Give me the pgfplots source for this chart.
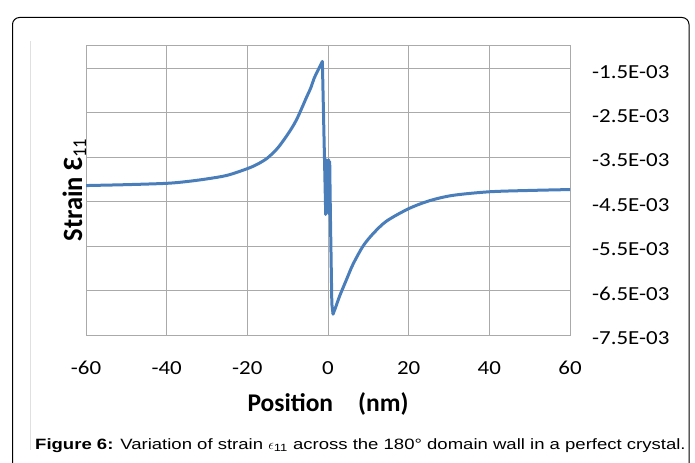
\documentclass[border=0pt]{standalone}
\usepackage{fontspec}
\setmainfont{Carlito}
\newfontfamily\tickfont[FakeStretch=1.15]{Carlito}
\newfontfamily\labfont[FakeStretch=0.95]{Carlito}
\newfontfamily\capfont[FakeStretch=1.24]{Liberation Sans}
\usepackage{pgfplots}
\pgfplotsset{compat=1.18}
\definecolor{curve}{RGB}{74,126,187}
\definecolor{gridc}{RGB}{170,170,170}
\begin{document}
\begin{tikzpicture}[x=1bp,y=1bp]
\path[use as bounding box] (0,0) rectangle (695,-463);
\draw[black, line width=1bp, rounded corners=7bp] (12.5,-475) -- (12.5,-17.5) -- (689,-17.5) -- (689,-475);
\draw[black!12, line width=0.8bp] (30,-41) -- (30,-450);
\begin{axis}[at={(86bp,-335bp)}, anchor=south west,
  width=484bp, height=290bp, scale only axis,
  xmin=-60, xmax=60, ymin=-0.0075, ymax=-0.00098,
  xtick={-60,-40,-20,0,20,40,60},
  xticklabels={-60,-40,-20,0,20,40,60},
  ytick={-0.0075,-0.0065,-0.0055,-0.0045,-0.0035,-0.0025,-0.0015},
  yticklabels={-7.5E-03,-6.5E-03,-5.5E-03,-4.5E-03,-3.5E-03,-2.5E-03,-1.5E-03},
  scaled y ticks=false, scaled x ticks=false,
  yticklabel pos=right,
  grid=major, major grid style={draw=gridc, line width=0.8bp},
  axis line style={draw=gridc, line width=0.8bp},
  major tick length=0pt,
  xticklabel style={font=\tickfont\fontsize{20}{24}\selectfont, anchor=center, inner sep=0pt, yshift=-33bp},
  yticklabel style={font=\tickfont\fontsize{20}{24}\selectfont, anchor=west, inner sep=0pt, xshift=22bp, yshift=-3.5bp},
  xlabel={\bfseries Position\hspace{25bp}(nm)},
  xlabel style={at={(axis description cs:0.5,0)}, anchor=base, inner sep=0pt, yshift=-76.7bp, font=\fontsize{25.6}{30}\selectfont},
  ylabel={\bfseries Strain Ɛ\textsubscript{\mdseries 11}},
  ylabel style={at={(axis description cs:-0.008,0.5)}, rotate=0, anchor=base, inner sep=0pt, font=\labfont\fontsize{28}{34}\selectfont},
]
\addplot[curve, line width=3bp, line join=round, line cap=round, smooth, tension=0.5] coordinates {
(-60,-0.00414) (-50,-0.00412) (-40,-0.00409) (-35,-0.00405) (-30,-0.00399)
(-25,-0.00391) (-20,-0.00376) (-17.5,-0.00366) (-15,-0.00352) (-12.5,-0.00330)
(-10.3,-0.00303) (-9,-0.00285) (-7.8,-0.00266) (-6.5,-0.00240) (-5.4,-0.00217)
(-4.3,-0.00195) (-3.4,-0.00172) (-2.5,-0.00155) (-1.4,-0.00135)
};
\addplot[curve, line width=3bp, line join=round, line cap=round] coordinates {
(-1.4,-0.00135)
(-0.57,-0.00479) (-0.45,-0.00356) (-0.3,-0.00475) (-0.15,-0.00358) (0,-0.00470)
(0.15,-0.00356) (0.3,-0.00478) (0.42,-0.00360) (0.6,-0.00485)
(0.95,-0.00680) (1.25,-0.00703)
};
\addplot[curve, line width=3bp, line join=round, line cap=round, smooth, tension=0.5] coordinates {
(1.25,-0.00703) (2.0,-0.00685) (2.9,-0.00662) (4.6,-0.00625)
(6.2,-0.00591) (8.7,-0.00550) (11.2,-0.00522) (14.5,-0.00494) (20,-0.00466)
(25.2,-0.00448) (31,-0.00436) (40,-0.00428) (50,-0.00425) (60,-0.00423)
};
\end{axis}
\node[anchor=base west, inner sep=0pt, font=\capfont\fontsize{15}{18}\selectfont] at (35,-449.3)
  {\textbf{Figure 6:} Variation of strain $\epsilon$\textsubscript{11} across the 180° domain wall in a perfect crystal.};
\end{tikzpicture}
\end{document}
